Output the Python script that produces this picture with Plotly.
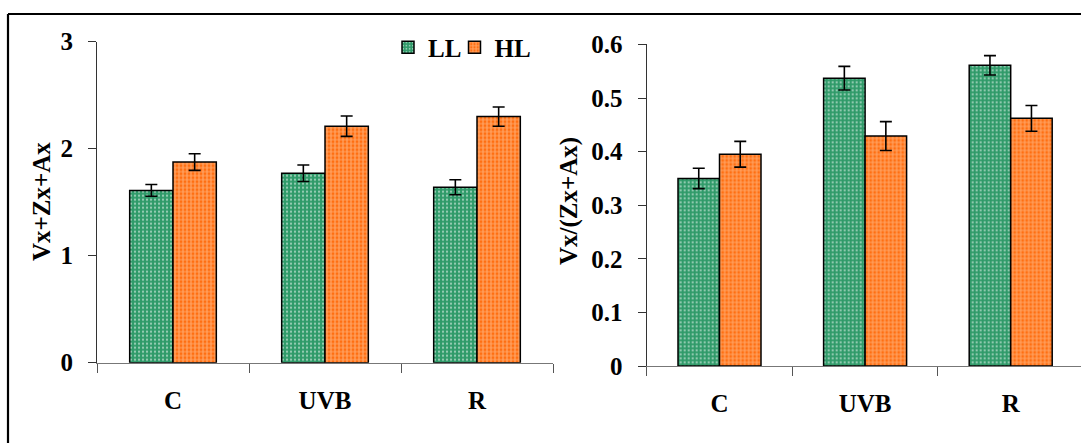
import plotly.graph_objects as go

categories = ["C", "UVB", "R"]
series_names = ["LL", "HL"]

# Left panel: Vx+Zx+Ax
left_LL = [1.61, 1.77, 1.64]
left_LL_err = [0.055, 0.077, 0.07]
left_HL = [1.875, 2.21, 2.30]
left_HL_err = [0.078, 0.095, 0.09]

# Right panel: Vx/(Zx+Ax)
right_LL = [0.350, 0.537, 0.561]
right_LL_err = [0.019, 0.022, 0.018]
right_HL = [0.395, 0.429, 0.462]
right_HL_err = [0.024, 0.027, 0.024]

left_yticks = [0, 1, 2, 3]
right_yticks = [0, 0.1, 0.2, 0.3, 0.4, 0.5, 0.6]
right_ytick_text = ["0", "0.1", "0.2", "0.3", "0.4", "0.5", "0.6"]

GREEN = "#2f9a69"
ORANGE = "#ff6f12"
FONT = "Liberation Serif"
FS = 25

W, H = 1081, 443

def px_x(x):
    return x / W

def px_y(y):
    return (H - y) / H

def bar(name, x, y, err, color, pattern, xa, ya, show, legend):
    return go.Bar(
        name=name, x=x, y=y,
        marker=dict(color=color, line=dict(color="black", width=1.5),
                    pattern=pattern),
        error_y=dict(type="data", array=err, color="black", thickness=1.6, width=6),
        xaxis=xa, yaxis=ya, showlegend=show, legend=legend,
    )

green_pat = dict(shape=".", fgcolor="white", bgcolor=GREEN, size=4, solidity=0.25, fillmode="overlay")
orange_pat = dict(shape="+", fgcolor="#ffdcbc", bgcolor=ORANGE, size=4, solidity=0.5, fillmode="overlay")

fig = go.Figure()
fig.add_trace(bar(series_names[0], categories, left_LL, left_LL_err, GREEN, green_pat, "x", "y", True, "legend"))
fig.add_trace(bar(series_names[1], categories, left_HL, left_HL_err, ORANGE, orange_pat, "x", "y", True, "legend2"))
fig.add_trace(bar(series_names[0], categories, right_LL, right_LL_err, GREEN, green_pat, "x2", "y2", False, "legend"))
fig.add_trace(bar(series_names[1], categories, right_HL, right_HL_err, ORANGE, orange_pat, "x2", "y2", False, "legend2"))

tickfont = dict(family=FONT, size=FS, color="black", weight="bold")
xcommon = dict(type="category", tickson="boundaries", ticks="outside", ticklen=9,
               tickcolor="#555", linecolor="#777", linewidth=1.2, showline=True,
               showgrid=False, zeroline=False, tickfont=tickfont, ticklabelstandoff=15,
               automargin=False)
ycommon = dict(ticks="outside", ticklen=8, tickcolor="#333", linecolor="#333",
               linewidth=1.2, showline=True, showgrid=False, zeroline=False,
               tickfont=tickfont, ticklabelstandoff=10, automargin=False)

right_span = (W - 646.7) / 145.6
legfont = dict(family=FONT, size=FS, color="black", weight="bold")

fig.update_layout(
    width=W, height=H, autosize=False,
    margin=dict(l=0, r=0, t=0, b=0, pad=0),
    paper_bgcolor="white", plot_bgcolor="rgba(0,0,0,0)",
    barmode="group", bargap=0.43, bargroupgap=0,
    font=dict(family=FONT, size=FS, color="black"),
    xaxis=dict(domain=[px_x(97), px_x(553)], anchor="y", range=[-0.5, 2.5], **xcommon),
    yaxis=dict(domain=[px_y(362.7), px_y(41.7)], anchor="x", range=[0, 3],
               tickvals=left_yticks, **ycommon),
    xaxis2=dict(domain=[px_x(646.7), 1.0], anchor="y2", range=[-0.5, -0.5 + right_span], **xcommon),
    yaxis2=dict(domain=[px_y(366), px_y(44.4)], anchor="x2", range=[0, 0.6],
                tickvals=right_yticks, ticktext=right_ytick_text, **ycommon),
    legend=dict(orientation="h", x=px_x(388), y=px_y(47.5), xanchor="left", yanchor="middle",
                font=legfont, bgcolor="rgba(0,0,0,0)", itemwidth=30),
    legend2=dict(orientation="h", x=px_x(454.5), y=px_y(47.5), xanchor="left", yanchor="middle",
                 font=legfont, bgcolor="rgba(0,0,0,0)", itemwidth=30),
    annotations=[
        dict(text="<b>Vx+Zx+Ax</b>", textangle=-90, x=px_x(41), y=px_y(202),
             xref="paper", yref="paper", xanchor="center", yanchor="middle", showarrow=False,
             font=dict(family=FONT, size=FS, color="black")),
        dict(text="<b>Vx/(Zx+Ax)</b>", textangle=-90, x=px_x(569), y=px_y(201),
             xref="paper", yref="paper", xanchor="center", yanchor="middle", showarrow=False,
             font=dict(family=FONT, size=FS, color="black")),
    ],
    shapes=[
        dict(type="line", xref="paper", yref="paper", x0=px_x(8), x1=px_x(8),
             y0=px_y(14), y1=-0.05, line=dict(color="black", width=2.2)),
        dict(type="line", xref="paper", yref="paper", x0=px_x(8), x1=1.05,
             y0=px_y(14), y1=px_y(14), line=dict(color="black", width=2.2)),
    ],
)

fig.write_html("out.html", config={"displayModeBar": False},
               post_script="document.body.style.margin='0';document.body.style.overflow='hidden';")
